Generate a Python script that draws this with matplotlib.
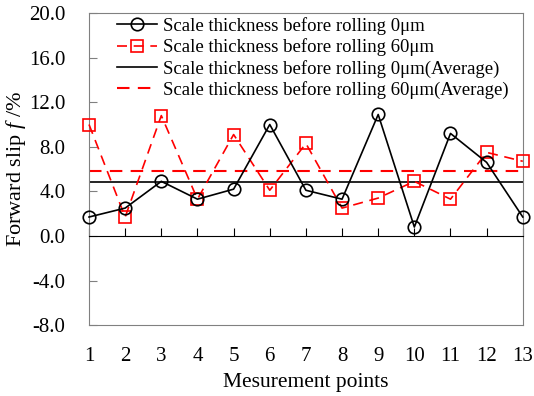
import numpy as np
import matplotlib
matplotlib.use("Agg")
import matplotlib.pyplot as plt

plt.rcParams['font.family'] = ['Liberation Serif', 'DejaVu Serif']
plt.rcParams['mathtext.fontset'] = 'custom'
plt.rcParams['mathtext.it'] = 'Liberation Serif:italic'
plt.rcParams['mathtext.rm'] = 'Liberation Serif'
plt.rcParams['axes.unicode_minus'] = False

# data
points = list(range(1, 14))
slip_0um = [1.7, 2.5, 4.9, 3.3, 4.2, 10.0, 4.1, 3.3, 10.9, 0.8, 9.2, 6.6, 1.7]
slip_60um = [10.0, 1.7, 10.8, 3.3, 9.1, 4.1, 8.3, 2.5, 3.4, 4.9, 3.3, 7.5, 6.7]
yticks = [-8, -4, 0, 4, 8, 12, 16, 20]

avg_0um = np.mean(slip_0um)
avg_60um = np.mean(slip_60um)

fig = plt.figure(figsize=(5.34, 3.96), dpi=100)
ax = fig.add_axes([0.1667, 0.179, 0.8123, 0.788])

ax.plot(points, slip_0um, color='black', lw=1.2, marker='o', ms=9, mfc='none',
        mec='black', mew=1.2, clip_on=False, zorder=4,
        label='Scale thickness before rolling 0μm')
ax.plot(points, slip_60um, color='red', lw=1.2, ls=(0, (6, 4)), marker='s', ms=9,
        mfc='none', mec='red', mew=1.2, clip_on=False, zorder=3,
        label='Scale thickness before rolling 60μm')
ax.plot([points[0], points[-1]], [avg_0um, avg_0um], color='black', lw=1.2,
        label='Scale thickness before rolling 0μm(Average)')
ax.plot([points[0], points[-1]], [avg_60um, avg_60um], color='red', lw=1.5,
        ls=(0, (6, 4)), label='Scale thickness before rolling 60μm(Average)')

ax.set_xlim(1, 13)
ax.set_ylim(-8, 20)
ax.set_yticks(yticks)
ax.set_yticklabels(['%.1f' % v for v in yticks], fontsize=15)
ax.tick_params(axis='y', direction='in', length=6, color='#808080', pad=17)

# x axis drawn through zero, labels kept at bottom
ax.spines['bottom'].set_position(('data', 0))
ax.spines['bottom'].set_color('black')
ax.set_xticks(points)
ax.tick_params(axis='x', direction='in', length=6, labelbottom=False)
for s in ['left', 'top', 'right']:
    ax.spines[s].set_color('#808080')

sec = ax.secondary_xaxis('bottom')
sec.set_xticks(points)
sec.set_xticklabels([str(p) for p in points], fontsize=15)
sec.tick_params(length=0, pad=16)
sec.spines['bottom'].set_color('#808080')

ax.set_ylabel(r'Forward slip $\it{f}$ /%', fontsize=16, labelpad=1)
sec.set_xlabel('Mesurement points', fontsize=15.5, labelpad=5)

ax.legend(loc='upper left', frameon=False, fontsize=13.5, handlelength=2.15,
          handletextpad=0.3, labelspacing=0.18, borderpad=0.0,
          borderaxespad=0.0, bbox_to_anchor=(0.0645, 0.987))

fig.savefig('out.png', dpi=100)
